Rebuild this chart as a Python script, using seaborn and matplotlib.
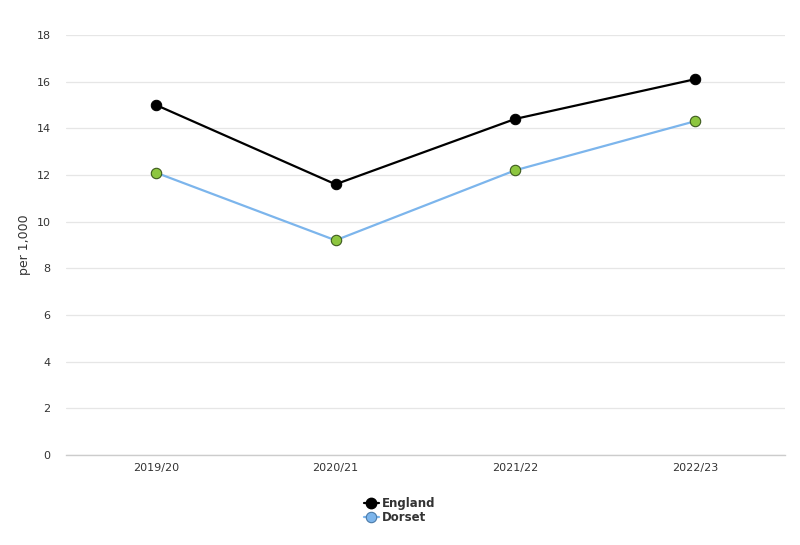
import matplotlib
matplotlib.use("Agg")
import matplotlib.pyplot as plt
import seaborn as sns
import pandas as pd
from matplotlib.lines import Line2D

years = ["2019/20", "2020/21", "2021/22", "2022/23"]
england = [15.0, 11.6, 14.4, 16.1]
dorset = [12.1, 9.2, 12.2, 14.3]

df = pd.DataFrame({
    "year": years * 2,
    "value": england + dorset,
    "area": ["England"] * 4 + ["Dorset"] * 4,
})
df["x"] = list(range(len(years))) * 2

sns.set_theme(style="white")
plt.rcParams['font.family'] = ['DejaVu Sans']

fig = plt.figure(figsize=(8, 5.45), dpi=100)
ax = fig.add_axes([0.0825, 0.165, 0.8985, 0.771])

eng = df[df.area == "England"]
dor = df[df.area == "Dorset"]
sns.lineplot(data=eng, x="x", y="value", ax=ax, color="black", lw=1.6,
             marker="o", markersize=7.5, markerfacecolor="black",
             markeredgecolor="black", legend=False, zorder=3)
sns.lineplot(data=dor, x="x", y="value", ax=ax, color="#7cb5ec", lw=1.6,
             marker="o", markersize=7.5, markerfacecolor="#8dc63f",
             markeredgecolor="#3d5a1e", markeredgewidth=0.8, legend=False, zorder=3)

ax.set_xlim(-0.5, 3.5)
ax.set_ylim(0, 18)
ax.set_yticks(range(0, 19, 2))
ax.set_xticks(range(len(years)))
ax.set_xticklabels(years)
ax.set_xlabel("")
ax.set_ylabel("per 1,000", fontsize=9, color="#333333")
ax.yaxis.set_label_coords(-0.048, 0.5)
ax.grid(axis="y", color="#e6e6e6", lw=0.9)
ax.grid(axis="x", visible=False)
for s in ["top", "right", "left"]:
    ax.spines[s].set_visible(False)
ax.spines["bottom"].set_color("#cccccc")
ax.spines["bottom"].set_linewidth(1)
ax.tick_params(axis="x", length=5, color="#cccccc", direction="in", labelsize=8, labelcolor="#333333", pad=6)
ax.tick_params(axis="y", length=0, labelsize=8, labelcolor="#333333", pad=11)

handles = [
    Line2D([0], [0], color="black", lw=1.6, marker="o", markersize=7.5,
           markerfacecolor="black", markeredgecolor="black"),
    Line2D([0], [0], color="#7cb5ec", lw=1.6, marker="o", markersize=7.5,
           markerfacecolor="#7cb5ec", markeredgecolor="#4a7aa8", markeredgewidth=0.8),
]
fig.legend(handles, ["England", "Dorset"], loc="center", bbox_to_anchor=(0.5, 0.063),
           frameon=False, ncol=1, handlelength=1.2, handletextpad=0.3,
           labelspacing=0.05, prop={"weight": "bold", "size": 8.5}, labelcolor="#333333")

fig.savefig("out.png", dpi=100)
